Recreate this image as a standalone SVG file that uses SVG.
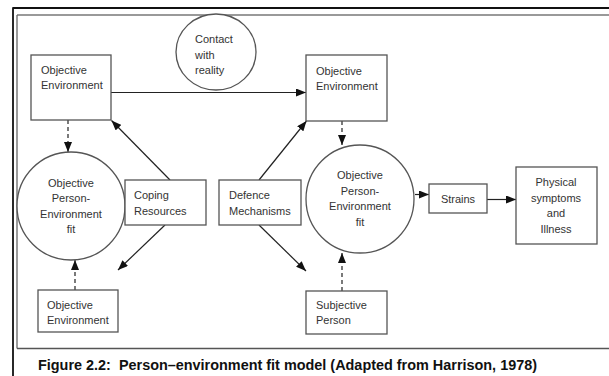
<svg xmlns="http://www.w3.org/2000/svg" width="609" height="376" viewBox="0 0 609 376">
<style>
.box{fill:#fff;stroke:#555;stroke-width:1.3}
.node text{font-family:"Liberation Sans",Arial,sans-serif;font-size:11px;fill:#333}
.c{text-anchor:middle}
.conn line{stroke:#222;stroke-width:1.2;fill:none}
.dash{stroke-dasharray:4,3}
.cap{font-family:"Liberation Sans",Arial,sans-serif;font-size:14px;font-weight:bold;fill:#111}
</style>
<defs>
<marker id="ah" markerWidth="10" markerHeight="8" refX="10" refY="4" orient="auto" markerUnits="userSpaceOnUse">
<path d="M0,0 L10,4 L0,8 z" fill="#111"/>
</marker>
</defs>
<rect width="609" height="376" fill="#fff"/>
<g id="frame" fill="none">
<line x1="13" y1="8" x2="609" y2="8" stroke="#111" stroke-width="1.8"/>
<line x1="13" y1="7.2" x2="13" y2="376" stroke="#111" stroke-width="1.8"/>
<line x1="17" y1="15" x2="609" y2="15" stroke="#777" stroke-width="1.3"/>
<line x1="17" y1="15" x2="17" y2="348.5" stroke="#666" stroke-width="1.3"/>
<line x1="17" y1="348.5" x2="609" y2="348.5" stroke="#555" stroke-width="1.4"/>
</g>
<g id="connectors" class="conn">
<line x1="111" y1="92.5" x2="306" y2="92.5" marker-end="url(#ah)"/>
<line class="dash" x1="68" y1="120" x2="68" y2="152" marker-end="url(#ah)"/>
<line x1="170" y1="180" x2="111.5" y2="120.5" marker-end="url(#ah)"/>
<line x1="165" y1="225" x2="118" y2="270" marker-end="url(#ah)"/>
<line x1="259" y1="180" x2="306.5" y2="121" marker-end="url(#ah)"/>
<line x1="259" y1="225" x2="306" y2="271" marker-end="url(#ah)"/>
<line class="dash" x1="75" y1="290" x2="75" y2="260" marker-end="url(#ah)"/>
<line class="dash" x1="342" y1="121" x2="342" y2="145" marker-end="url(#ah)"/>
<line class="dash" x1="342" y1="291" x2="342" y2="253" marker-end="url(#ah)"/>
<line x1="415" y1="194.5" x2="429" y2="194.5" marker-end="url(#ah)"/>
<line x1="487" y1="199.5" x2="516" y2="199.5" marker-end="url(#ah)"/>
</g>
<g id="env1" class="node">
<rect class="box" x="31" y="55" width="80" height="65"/>
<text x="41" y="74">Objective</text>
<text x="41" y="89">Environment</text>
</g>
<g id="contact" class="node">
<ellipse class="box" cx="216" cy="52" rx="40" ry="38"/>
<text x="195" y="43">Contact</text>
<text x="195" y="59">with</text>
<text x="195" y="74">reality</text>
</g>
<g id="env2" class="node">
<rect class="box" x="306" y="55" width="81" height="66"/>
<text x="316" y="75">Objective</text>
<text x="316" y="90">Environment</text>
</g>
<g id="pefit1" class="node">
<circle class="box" cx="71" cy="206" r="54"/>
<text class="c" x="71" y="187">Objective</text>
<text class="c" x="71" y="202">Person-</text>
<text class="c" x="71" y="218">Environment</text>
<text class="c" x="71" y="233">fit</text>
</g>
<g id="coping" class="node">
<rect class="box" x="125" y="180" width="81" height="45"/>
<text x="134" y="199">Coping</text>
<text x="134" y="215">Resources</text>
</g>
<g id="defence" class="node">
<rect class="box" x="219" y="180" width="82" height="45"/>
<text x="229" y="199">Defence</text>
<text x="229" y="215">Mechanisms</text>
</g>
<g id="pefit2" class="node">
<circle class="box" cx="360" cy="199" r="54"/>
<text class="c" x="360" y="179">Objective</text>
<text class="c" x="360" y="195">Person-</text>
<text class="c" x="360" y="210">Environment</text>
<text class="c" x="360" y="226">fit</text>
</g>
<g id="strains" class="node">
<rect class="box" x="429" y="184" width="58" height="29"/>
<text class="c" x="458" y="203">Strains</text>
</g>
<g id="physical" class="node">
<rect class="box" x="516" y="167" width="81" height="77"/>
<text class="c" x="556" y="186">Physical</text>
<text class="c" x="556" y="202">symptoms</text>
<text class="c" x="556" y="217">and</text>
<text class="c" x="556" y="233">Illness</text>
</g>
<g id="env3" class="node">
<rect class="box" x="38" y="290" width="80" height="42"/>
<text x="47" y="309">Objective</text>
<text x="47" y="324">Environment</text>
</g>
<g id="subjective" class="node">
<rect class="box" x="306" y="291" width="81" height="43"/>
<text x="316" y="309">Subjective</text>
<text x="316" y="324">Person</text>
</g>
<text class="cap" x="38" y="370" textLength="499" lengthAdjust="spacingAndGlyphs" xml:space="preserve">Figure 2.2:  Person–environment fit model (Adapted from Harrison, 1978)</text>
</svg>
